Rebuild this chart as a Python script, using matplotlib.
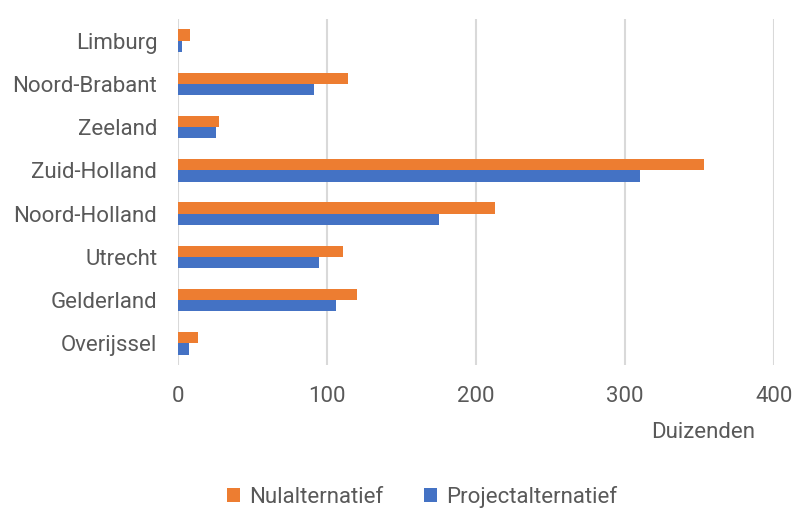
import numpy as np
import matplotlib
matplotlib.use('Agg')
import matplotlib.pyplot as plt

# Data (duizenden)
provinces = ['Limburg', 'Noord-Brabant', 'Zeeland', 'Zuid-Holland',
             'Noord-Holland', 'Utrecht', 'Gelderland', 'Overijssel']
nul = [8, 114, 27.5, 353, 213, 111, 120, 13.5]
project = [2.5, 91, 25.5, 310, 175.5, 94.5, 106, 7.5]
xticks = [0, 100, 200, 300, 400]

orange = '#ED7D31'
blue = '#4472C4'
txt = '#595959'

plt.rcParams['font.family'] = ['Roboto', 'DejaVu Sans']

fig = plt.figure(figsize=(7.94, 5.09), dpi=100)
ax = fig.add_axes([178/794, 1-365/509, (774-178)/794, 346/509])

y = np.arange(len(provinces))
h = 0.26
ax.barh(y - h/2, nul, height=h, color=orange, label='Nulalternatief', zorder=3)
ax.barh(y + h/2, project, height=h, color=blue, label='Projectalternatief', zorder=3)

ax.set_ylim(len(provinces) - 0.5, -0.5)
ax.set_xlim(0, 400)
ax.set_yticks(y)
ax.set_yticklabels(provinces, fontsize=16, color=txt)
ax.set_xticks(xticks)
ax.set_xticklabels([str(v) for v in xticks], fontsize=16, color=txt)
ax.tick_params(axis='both', length=0)
ax.tick_params(axis='x', pad=15)
ax.tick_params(axis='y', pad=15)

ax.grid(axis='x', color='#d9d9d9', linewidth=1.5, zorder=0)
for s in ['top', 'right', 'bottom', 'left']:
    ax.spines[s].set_visible(False)

fig.text(703/794, 1-433/509, 'Duizenden', fontsize=16, color=txt,
         ha='center', va='center')

fig.legend(loc='center', bbox_to_anchor=(422/794, 1-497/509), ncol=2,
           frameon=False, fontsize=16, labelcolor=txt, handlelength=0.6,
           handleheight=0.6, handletextpad=0.4, columnspacing=1.8)

fig.savefig('out.png', dpi=100)
